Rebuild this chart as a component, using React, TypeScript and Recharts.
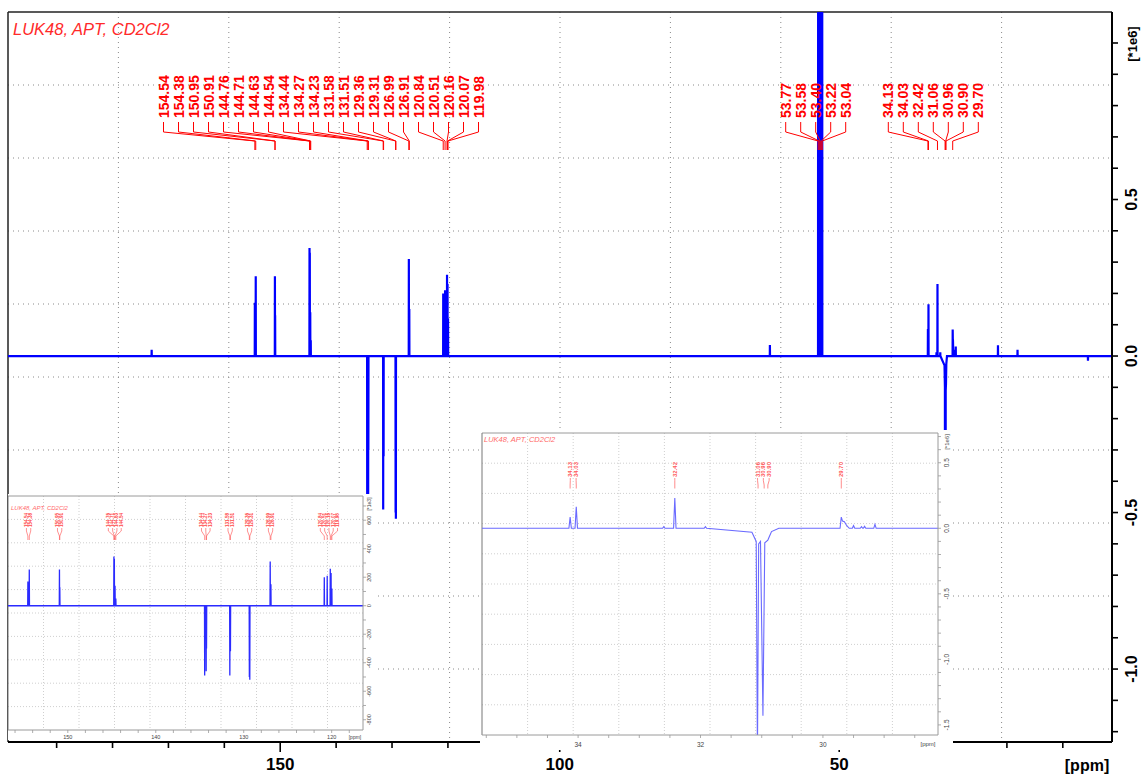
import {
  LineChart,
  Line,
  XAxis,
  YAxis,
  CartesianGrid,
  ReferenceLine,
  ReferenceDot,
} from 'recharts';

// 13C APT spectrum of LUK48 in CD2Cl2, intensities in units of 1e6
// sharp lines: shift (ppm) and intensity
const peakPpm = [
  173.0, 154.54, 154.38, 150.95, 150.91, 144.76, 144.71, 144.63, 144.54, 134.44, 134.27,
  134.23, 131.58, 131.51, 129.36, 129.31, 126.99, 126.91, 120.84, 120.51, 120.16, 120.07,
  119.98, 62.4, 53.77, 53.58, 53.4, 53.22, 53.04, 34.13, 34.03, 32.6, 32.42, 31.92, 29.5,
  29.37, 29.32, 29.15, 21.6, 18.1, 5.5,
];
const peakHeight = [
  0.02, 0.17, 0.255, 0.255, 0.13, 0.345, 0.33, 0.14, 0.05, -0.49, -0.46,
  -0.3, -0.49, -0.32, -0.5, -0.52, 0.31, 0.15, 0.2, 0.21, 0.26, 0.23,
  0.12, 0.035, 1.3, 2.6, 3.9, 2.6, 1.3, 0.086, 0.165, 0.012, 0.23, 0.012, 0.02,
  0.012, 0.015, 0.03, 0.034, 0.02, -0.015,
];
// broad CH2 multiplet (31.06 / 30.96 / 30.90) and the 29.70 line with its shoulder
const shapePpm = [31.16, 31.09, 31.07, 31.05, 31.02, 30.98, 30.95, 30.9, 30.84, 30.72, 29.72, 29.7, 29.68, 29.65, 29.61, 29.57];
const shapeValue = [-0.03, -0.1, -1.75, -0.12, -0.1, -1.43, -0.11, -0.09, -0.025, 0, 0, 0.085, 0.055, 0.05, 0.02, 0];
const spectrumEnds = [200, 0];

// peak picking labels
const mainLabelsA = [
  154.54, 154.38, 150.95, 150.91, 144.76, 144.71, 144.63, 144.54, 134.44, 134.27, 134.23,
  131.58, 131.51, 129.36, 129.31, 126.99, 126.91, 120.84, 120.51, 120.16, 120.07, 119.98,
];
const mainLabelsB = [53.77, 53.58, 53.4, 53.22, 53.04];
const mainLabelsC = [34.13, 34.03, 32.42, 31.06, 30.96, 30.9, 29.7];
const inset1Labels = [
  [154.54, 154.38],
  [150.95, 150.91],
  [144.76, 144.71, 144.63, 144.54],
  [134.44, 134.27, 134.23],
  [131.58, 131.51],
  [129.36, 129.31],
  [126.99, 126.91],
  [120.84, 120.51, 120.16, 120.07, 119.98],
];
const inset2Labels = [[34.13, 34.03], [32.42], [31.06, 30.96, 30.9], [29.7]];

// axis ticks
const mainXTicks = [10, 20, 30, 40, 50, 60, 70, 80, 90, 100, 110, 120, 130, 140, 150, 160, 170, 180, 190];
const mainXLabels = [50, 100, 150];
const mainYTicks = [-1.2, -1.1, -1.0, -0.9, -0.8, -0.7, -0.6, -0.5, -0.4, -0.3, -0.2, -0.1, 0, 0.1, 0.2, 0.3, 0.4, 0.5, 0.6, 0.7, 0.8, 0.9, 1.0];
const mainYLabels = [-1.0, -0.5, 0, 0.5];
const inset1XTicks = [118, 120, 122, 124, 126, 128, 130, 132, 134, 136, 138, 140, 142, 144, 146, 148, 150, 152, 154, 156];
const inset1XLabels = [120, 130, 140, 150];
const inset1YTicks = [-0.8, -0.7, -0.6, -0.5, -0.4, -0.3, -0.2, -0.1, 0, 0.1, 0.2, 0.3, 0.4, 0.5, 0.6, 0.7];
const inset1YLabels = [-0.8, -0.6, -0.4, -0.2, 0, 0.2, 0.4, 0.6];
const inset2XTicks = [28.5, 29, 29.5, 30, 30.5, 31, 31.5, 32, 32.5, 33, 33.5, 34, 34.5, 35, 35.5];
const inset2XLabels = [30, 32, 34];
const inset2YTicks = [-1.5, -1.4, -1.3, -1.2, -1.1, -1.0, -0.9, -0.8, -0.7, -0.6, -0.5, -0.4, -0.3, -0.2, -0.1, 0, 0.1, 0.2, 0.3, 0.4, 0.5, 0.6, 0.7];
const inset2YLabels = [-1.5, -1.0, -0.5, 0, 0.5];

const FONT = '"Liberation Sans", Arial, sans-serif';

const spectrum = (() => {
  const pts: { ppm: number; v: number }[] = [];
  spectrumEnds.forEach((p) => pts.push({ ppm: p, v: 0 }));
  peakPpm.forEach((p, i) => {
    pts.push({ ppm: p + 0.02, v: 0 }, { ppm: p, v: peakHeight[i] }, { ppm: p - 0.02, v: 0 });
  });
  shapePpm.forEach((p, i) => pts.push({ ppm: p, v: shapeValue[i] }));
  return pts.sort((a, b) => b.ppm - a.ppm);
})();

const has = (list: number[], v: number) => list.some((l) => Math.abs(l - v) < 1e-6);

type TagStyle = {
  textY: number;
  l0: number;
  l1: number;
  l2: number;
  l3: number;
  font: number;
  color: string;
  lw: number;
};

const tagShape = (labelX: (cx: number) => number, ppm: number, st: TagStyle) => (p: any) => {
  const cx = p.cx;
  const lx = labelX(cx);
  return (
    <g>
      <path
        d={`M${lx},${st.l0}V${st.l1}L${cx},${st.l2}V${st.l3}`}
        fill="none"
        stroke={st.color}
        strokeWidth={st.lw}
      />
      <text
        x={lx}
        y={st.textY}
        transform={`rotate(-90 ${lx} ${st.textY})`}
        fontSize={st.font}
        fontWeight="bold"
        fontFamily={FONT}
        fill={st.color}
        dominantBaseline="central"
      >
        {ppm.toFixed(2)}
      </text>
    </g>
  );
};

const gridV = (n: number) => ({ offset }: any) =>
  Array.from({ length: n - 1 }, (_, i) => offset.left + ((i + 1) * offset.width) / n);
const gridH = (n: number) => ({ offset }: any) =>
  Array.from({ length: n - 1 }, (_, i) => offset.top + ((i + 1) * offset.height) / n);

// ---------------- main spectrum ----------------
const MAIN_X: [number, number] = [1.2, 198.7];
const MAIN_Y: [number, number] = [-1.233, 1.099];
const mainTag: TagStyle = { textY: 118, l0: 122, l1: 132, l2: 141, l3: 150, font: 14, color: '#ff0000', lw: 1 };
const mainTagStart = [163.5, 785.7, 888.3];
const mainTagGap = 15;

const MainXTick = ({ x, y, payload }: any) => {
  const v = payload.value;
  const major = has(mainXLabels, v);
  return (
    <g>
      <line x1={x} y1={y} x2={x} y2={y + (major ? 10 : 6)} stroke="#000" strokeWidth={1.6} />
      {major && (
        <text x={x} y={y + 22} textAnchor="middle" dominantBaseline="central" fontSize={17} fontWeight="bold" fontFamily={FONT} fill="#000">
          {v}
        </text>
      )}
    </g>
  );
};

const MainYTick = ({ x, y, payload }: any) => {
  const v = payload.value;
  const major = has(mainYLabels, v);
  return (
    <g>
      <line x1={x} y1={y} x2={x + 6} y2={y} stroke="#000" strokeWidth={1.6} />
      {major && (
        <text
          x={x + 20}
          y={y}
          transform={`rotate(-90 ${x + 20} ${y})`}
          textAnchor="middle"
          dominantBaseline="central"
          fontSize={16}
          fontWeight="bold"
          fontFamily={FONT}
          fill="#000"
        >
          {v.toFixed(1)}
        </text>
      )}
    </g>
  );
};

const MainChart = () => (
  <LineChart width={1144} height={774} data={spectrum} margin={{ top: 12, right: 6, bottom: 4, left: 8 }}>
    <CartesianGrid
      stroke="#8a8a8a"
      strokeDasharray="1 4"
      verticalCoordinatesGenerator={gridV(10)}
      horizontalCoordinatesGenerator={gridH(10)}
    />
    <XAxis
      dataKey="ppm"
      type="number"
      domain={MAIN_X}
      reversed
      allowDataOverflow
      ticks={mainXTicks}
      interval={0}
      height={28}
      tickSize={0}
      tickMargin={0}
      tickLine={false}
      axisLine={{ stroke: '#000', strokeWidth: 2 }}
      tick={<MainXTick />}
    />
    <YAxis
      orientation="right"
      type="number"
      domain={MAIN_Y}
      allowDataOverflow
      ticks={mainYTicks}
      interval={0}
      width={26}
      tickSize={0}
      tickMargin={0}
      tickLine={false}
      axisLine={{ stroke: '#000', strokeWidth: 2 }}
      tick={<MainYTick />}
    />
    <ReferenceLine y={MAIN_Y[1]} stroke="#222" strokeWidth={1.5} ifOverflow="visible" />
    <ReferenceLine x={MAIN_X[1]} stroke="#222" strokeWidth={1.5} ifOverflow="visible" />
    <Line
      dataKey="v"
      type="linear"
      stroke="#0000ff"
      strokeWidth={2.2}
      dot={false}
      activeDot={false}
      isAnimationActive={false}
    />
    {[mainLabelsA, mainLabelsB, mainLabelsC].map((group, g) =>
      group.map((ppm, i) => (
        <ReferenceDot
          key={`m${g}-${i}`}
          x={ppm}
          y={0}
          ifOverflow="visible"
          shape={tagShape(() => mainTagStart[g] + i * mainTagGap, ppm, mainTag)}
        />
      )),
    )}
  </LineChart>
);

// ---------------- inset charts ----------------
type InsetCfg = {
  width: number;
  height: number;
  margin: { top: number; right: number; bottom: number; left: number };
  xDomain: [number, number];
  yDomain: [number, number];
  plotWidth: number;
  yWidth: number;
  xHeight: number;
  xTicks: number[];
  xLabels: number[];
  yTicks: number[];
  yLabels: number[];
  yFormat: (v: number) => string;
  font: number;
  labelOffsetX: number;
  labelOffsetY: number;
  groups: number[][];
  tag: TagStyle;
  tagGap: number;
  lineColor: string;
  lineWidth: number;
};

const InsetChart = ({ c }: { c: InsetCfg }) => {
  const k = c.plotWidth / (c.xDomain[1] - c.xDomain[0]);
  const XTick = ({ x, y, payload }: any) => {
    const v = payload.value;
    return (
      <g>
        <line x1={x} y1={y} x2={x} y2={y + 3} stroke="#999" strokeWidth={0.8} />
        {has(c.xLabels, v) && (
          <text x={x} y={y + c.labelOffsetY} textAnchor="middle" dominantBaseline="central" fontSize={c.font} fontFamily={FONT} fill="#444">
            {v}
          </text>
        )}
      </g>
    );
  };
  const YTick = ({ x, y, payload }: any) => {
    const v = payload.value;
    const lx = x + c.labelOffsetX;
    return (
      <g>
        <line x1={x} y1={y} x2={x + 3} y2={y} stroke="#999" strokeWidth={0.8} />
        {has(c.yLabels, v) && (
          <text
            x={lx}
            y={y}
            transform={`rotate(-90 ${lx} ${y})`}
            textAnchor="middle"
            dominantBaseline="central"
            fontSize={c.font}
            fontFamily={FONT}
            fill="#444"
          >
            {c.yFormat(v)}
          </text>
        )}
      </g>
    );
  };
  return (
    <LineChart width={c.width} height={c.height} data={spectrum} margin={c.margin}>
      <CartesianGrid
        stroke="#cfcfcf"
        strokeDasharray="1 2"
        verticalCoordinatesGenerator={gridV(10)}
        horizontalCoordinatesGenerator={gridH(10)}
      />
      <XAxis
        dataKey="ppm"
        type="number"
        domain={c.xDomain}
        reversed
        allowDataOverflow
        ticks={c.xTicks}
        interval={0}
        height={c.xHeight}
        tickSize={0}
        tickMargin={0}
        tickLine={false}
        axisLine={{ stroke: '#9a9a9a', strokeWidth: 1 }}
        tick={<XTick />}
      />
      <YAxis
        orientation="right"
        type="number"
        domain={c.yDomain}
        allowDataOverflow
        ticks={c.yTicks}
        interval={0}
        width={c.yWidth}
        tickSize={0}
        tickMargin={0}
        tickLine={false}
        axisLine={{ stroke: '#9a9a9a', strokeWidth: 1 }}
        tick={<YTick />}
      />
      <ReferenceLine y={c.yDomain[1]} stroke="#9a9a9a" strokeWidth={1} ifOverflow="visible" />
      <ReferenceLine x={c.xDomain[1]} stroke="#777" strokeWidth={1} ifOverflow="visible" />
      <Line
        dataKey="v"
        type="linear"
        stroke={c.lineColor}
        strokeWidth={c.lineWidth}
        dot={false}
        activeDot={false}
        isAnimationActive={false}
      />
      {c.groups.map((group, g) => {
        const mean = group.reduce((s, p) => s + p, 0) / group.length;
        return group.map((ppm, i) => (
          <ReferenceDot
            key={`i${g}-${i}`}
            x={ppm}
            y={0}
            ifOverflow="visible"
            shape={tagShape(
              (cx) => cx + (ppm - mean) * k + (i - (group.length - 1) / 2) * c.tagGap,
              ppm,
              c.tag,
            )}
          />
        ));
      })}
    </LineChart>
  );
};

const inset1: InsetCfg = {
  width: 367,
  height: 246,
  margin: { top: 2, right: 2, bottom: 0, left: 0 },
  xDomain: [116.44, 156.8],
  yDomain: [-0.872, 0.77],
  plotWidth: 355,
  yWidth: 10,
  xHeight: 10,
  xTicks: inset1XTicks,
  xLabels: inset1XLabels,
  yTicks: inset1YTicks,
  yLabels: inset1YLabels,
  yFormat: (v) => (v * 1000).toFixed(0),
  font: 5.5,
  labelOffsetX: 6,
  labelOffsetY: 7,
  groups: inset1Labels,
  tag: { textY: 33, l0: 34, l1: 37, l2: 42, l3: 46, font: 4.6, color: '#ff4a4a', lw: 0.6 },
  tagGap: 4.3,
  lineColor: '#2b2bff',
  lineWidth: 1.3,
};

const inset2: InsetCfg = {
  width: 473,
  height: 320,
  margin: { top: 3, right: 3, bottom: 3, left: 2 },
  xDomain: [28.12, 35.57],
  yDomain: [-1.577, 0.727],
  plotWidth: 456,
  yWidth: 12,
  xHeight: 12,
  xTicks: inset2XTicks,
  xLabels: inset2XLabels,
  yTicks: inset2YTicks,
  yLabels: inset2YLabels,
  yFormat: (v) => v.toFixed(1),
  font: 6.5,
  labelOffsetX: 8.5,
  labelOffsetY: 9,
  groups: inset2Labels,
  tag: { textY: 47, l0: 48, l1: 50.5, l2: 55, l3: 58.5, font: 6, color: '#ff5a5a', lw: 0.7 },
  tagGap: 5.8,
  lineColor: '#6a6aff',
  lineWidth: 1.1,
};

const Rot = ({ x, y, size, children, color = '#000', weight = 'bold' }: any) => (
  <text
    x={x}
    y={y}
    transform={`rotate(-90 ${x} ${y})`}
    textAnchor="middle"
    dominantBaseline="central"
    fontSize={size}
    fontWeight={weight}
    fontFamily={FONT}
    fill={color}
  >
    {children}
  </text>
);

export default function App() {
  return (
    <div style={{ position: 'relative', width: 1144, height: 774, overflow: 'hidden', background: '#fff' }}>
      <style>{'body{margin:0;overflow:hidden}'}</style>
      <div style={{ position: 'absolute', left: 0, top: 0 }}>
        <MainChart />
      </div>
      <svg width={1144} height={774} style={{ position: 'absolute', left: 0, top: 0, pointerEvents: 'none' }}>
        <text x={13} y={35} fontSize={16.5} fontStyle="italic" fontFamily={FONT} fill="#ff2a2a">
          LUK48, APT, CD2Cl2
        </text>
        <text x={1087} y={765} textAnchor="middle" dominantBaseline="central" fontSize={16} fontWeight="bold" fontFamily={FONT}>
          [ppm]
        </text>
        <Rot x={1132} y={44} size={13}>
          [*1e6]
        </Rot>
      </svg>
      <div style={{ position: 'absolute', left: 8, top: 494, width: 367, height: 246, background: '#fff' }}>
        <InsetChart c={inset1} />
        <svg width={367} height={246} style={{ position: 'absolute', left: 0, top: 0, pointerEvents: 'none' }}>
          <text x={3} y={16} fontSize={6} fontStyle="italic" fontFamily={FONT} fill="#ff6a6a">
            LUK48, APT, CD2Cl2
          </text>
          <Rot x={361} y={10} size={5} weight="normal" color="#444">
            [*1e3]
          </Rot>
          <text x={347} y={243} textAnchor="middle" dominantBaseline="central" fontSize={5} fontFamily={FONT} fill="#444">
            [ppm]
          </text>
        </svg>
      </div>
      <div style={{ position: 'absolute', left: 480, top: 430, width: 473, height: 320, background: '#fff' }}>
        <InsetChart c={inset2} />
        <svg width={473} height={320} style={{ position: 'absolute', left: 0, top: 0, pointerEvents: 'none' }}>
          <text x={4} y={12} fontSize={7.5} fontStyle="italic" fontFamily={FONT} fill="#ff6a6a">
            LUK48, APT, CD2Cl2
          </text>
          <Rot x={467} y={12} size={6} weight="normal" color="#444">
            [*1e6]
          </Rot>
          <text x={448} y={314} textAnchor="middle" dominantBaseline="central" fontSize={6} fontFamily={FONT} fill="#444">
            [ppm]
          </text>
        </svg>
      </div>
    </div>
  );
}
